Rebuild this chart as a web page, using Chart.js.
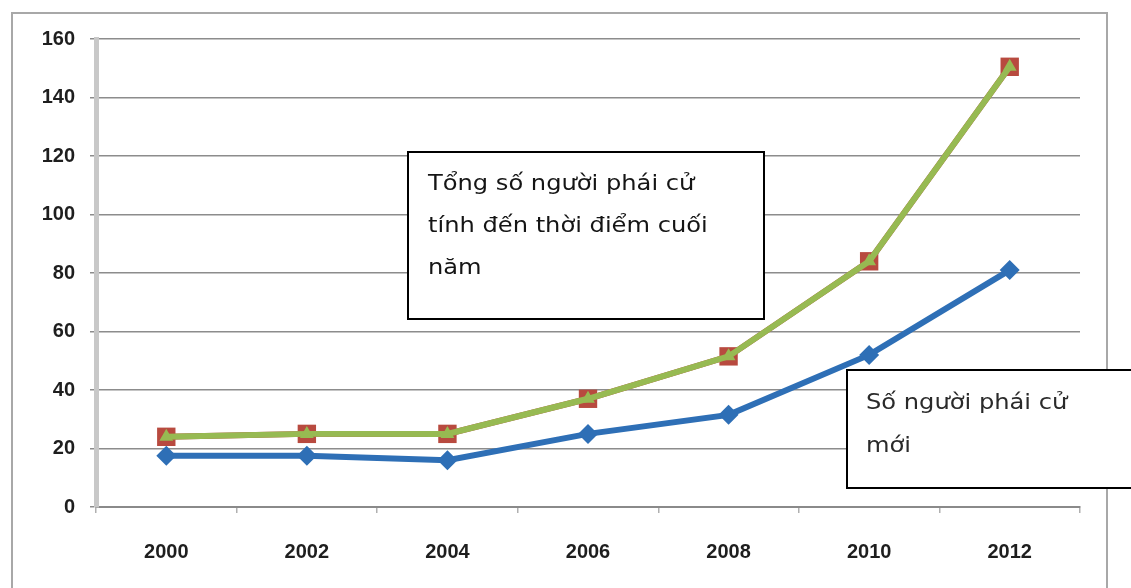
<!DOCTYPE html>
<html>
<head>
<meta charset="utf-8">
<script src="https://cdn.jsdelivr.net/npm/chart.js@4/dist/chart.umd.min.js"></script>
<style>
html,body{margin:0;padding:0;background:#fff;}
#wrap{position:relative;width:1131px;height:588px;}
</style>
</head>
<body>
<div id="wrap"><canvas id="c" width="1131" height="588"></canvas></div>
<script>
const years = ['2000','2002','2004','2006','2008','2010','2012'];
const newSent = [17.5, 17.5, 16, 25, 31.5, 52, 81];
const totalSent = [24, 25, 25, 37, 51.5, 84, 150.5];
const yMin = 0, yMax = 160, yStep = 20;
const labelTotal = ['Tổng số người phái cử', 'tính đến thời điểm cuối', 'năm'];
const labelNew = ['Số người phái cử', 'mới'];

const boxPlugin = {
  id: 'boxes',
  beforeDraw(chart) {
    const ctx = chart.ctx;
    ctx.save();
    ctx.fillStyle = '#fff';
    ctx.fillRect(0, 0, chart.width, chart.height);
    ctx.strokeStyle = '#a8a8a8';
    ctx.lineWidth = 2;
    ctx.strokeRect(12, 13, 1095, 600);
    ctx.restore();
  },
  afterDraw(chart) {
    const ctx = chart.ctx;
    function box(x, y, w, h, lines, tx, ty0, lh, color) {
      ctx.save();
      ctx.fillStyle = '#fff';
      ctx.fillRect(x, y, w, h);
      ctx.strokeStyle = '#000';
      ctx.lineWidth = 2;
      ctx.strokeRect(x, y, w, h);
      ctx.fillStyle = color;
      ctx.font = '21px "DejaVu Sans", sans-serif';
      ctx.textBaseline = 'alphabetic';
      lines.forEach((t, i) => {
        ctx.save();
        ctx.translate(tx, ty0 + i * lh);
        ctx.scale(1.15, 1);
        ctx.fillText(t, 0, 0);
        ctx.restore();
      });
      ctx.restore();
    }
    box(408, 152, 356, 167, labelTotal, 428, 190, 42, '#151515');
    box(847, 370, 300, 118, labelNew, 866, 409, 43, '#2a2a2a');
  }
};

new Chart(document.getElementById('c'), {
  type: 'line',
  data: {
    labels: years,
    datasets: [
      {
        label: 'Tổng số người phái cử tính đến thời điểm cuối năm',
        data: totalSent,
        borderColor: '#97ba52',
        backgroundColor: '#97ba52',
        borderWidth: 6,
        pointStyle: 'triangle',
        pointRadius: 8,
        pointBorderWidth: 0,
        order: 0
      },
      {
        label: 'Tổng',
        data: totalSent,
        borderColor: '#b84a3f',
        backgroundColor: '#b84a3f',
        borderWidth: 6,
        pointStyle: 'rect',
        pointRadius: 13,
        pointBorderWidth: 0,
        order: 1
      },
      {
        label: 'Số người phái cử mới',
        data: newSent,
        borderColor: '#2e6fb6',
        backgroundColor: '#2e6fb6',
        borderWidth: 6,
        pointStyle: 'rectRot',
        pointRadius: 10,
        pointBorderWidth: 0,
        order: 2
      }
    ]
  },
  options: {
    responsive: false,
    animation: false,
    layout: { padding: { top: 39, right: 51, left: 0, bottom: 0 } },
    plugins: { legend: { display: false }, tooltip: { enabled: false } },
    elements: { line: { tension: 0 } },
    scales: {
      x: {
        offset: true,
        grid: { display: true, drawOnChartArea: false, offset: true, color: '#b0b0b0', lineWidth: 1.5, tickLength: 6 },
        border: { color: '#8a8a8a', width: 2 },
        ticks: { color: '#1e1e1e', font: { family: '"Liberation Sans", Arial, sans-serif', size: 20, weight: 'bold' }, padding: 27, maxRotation: 0 },
        afterFit(s) { s.height = 81; }
      },
      y: {
        min: yMin, max: yMax,
        ticks: { stepSize: yStep, color: '#1e1e1e', font: { family: '"Liberation Sans", Arial, sans-serif', size: 20, weight: 'bold' }, padding: 15 },
        grid: { color: '#8c8c8c', lineWidth: 1.5, tickLength: 6 },
        border: { color: '#c8c8c8', width: 5 },
        afterFit(s) { s.width = 96; }
      }
    }
  },
  plugins: [boxPlugin]
});
</script>
</body>
</html>
